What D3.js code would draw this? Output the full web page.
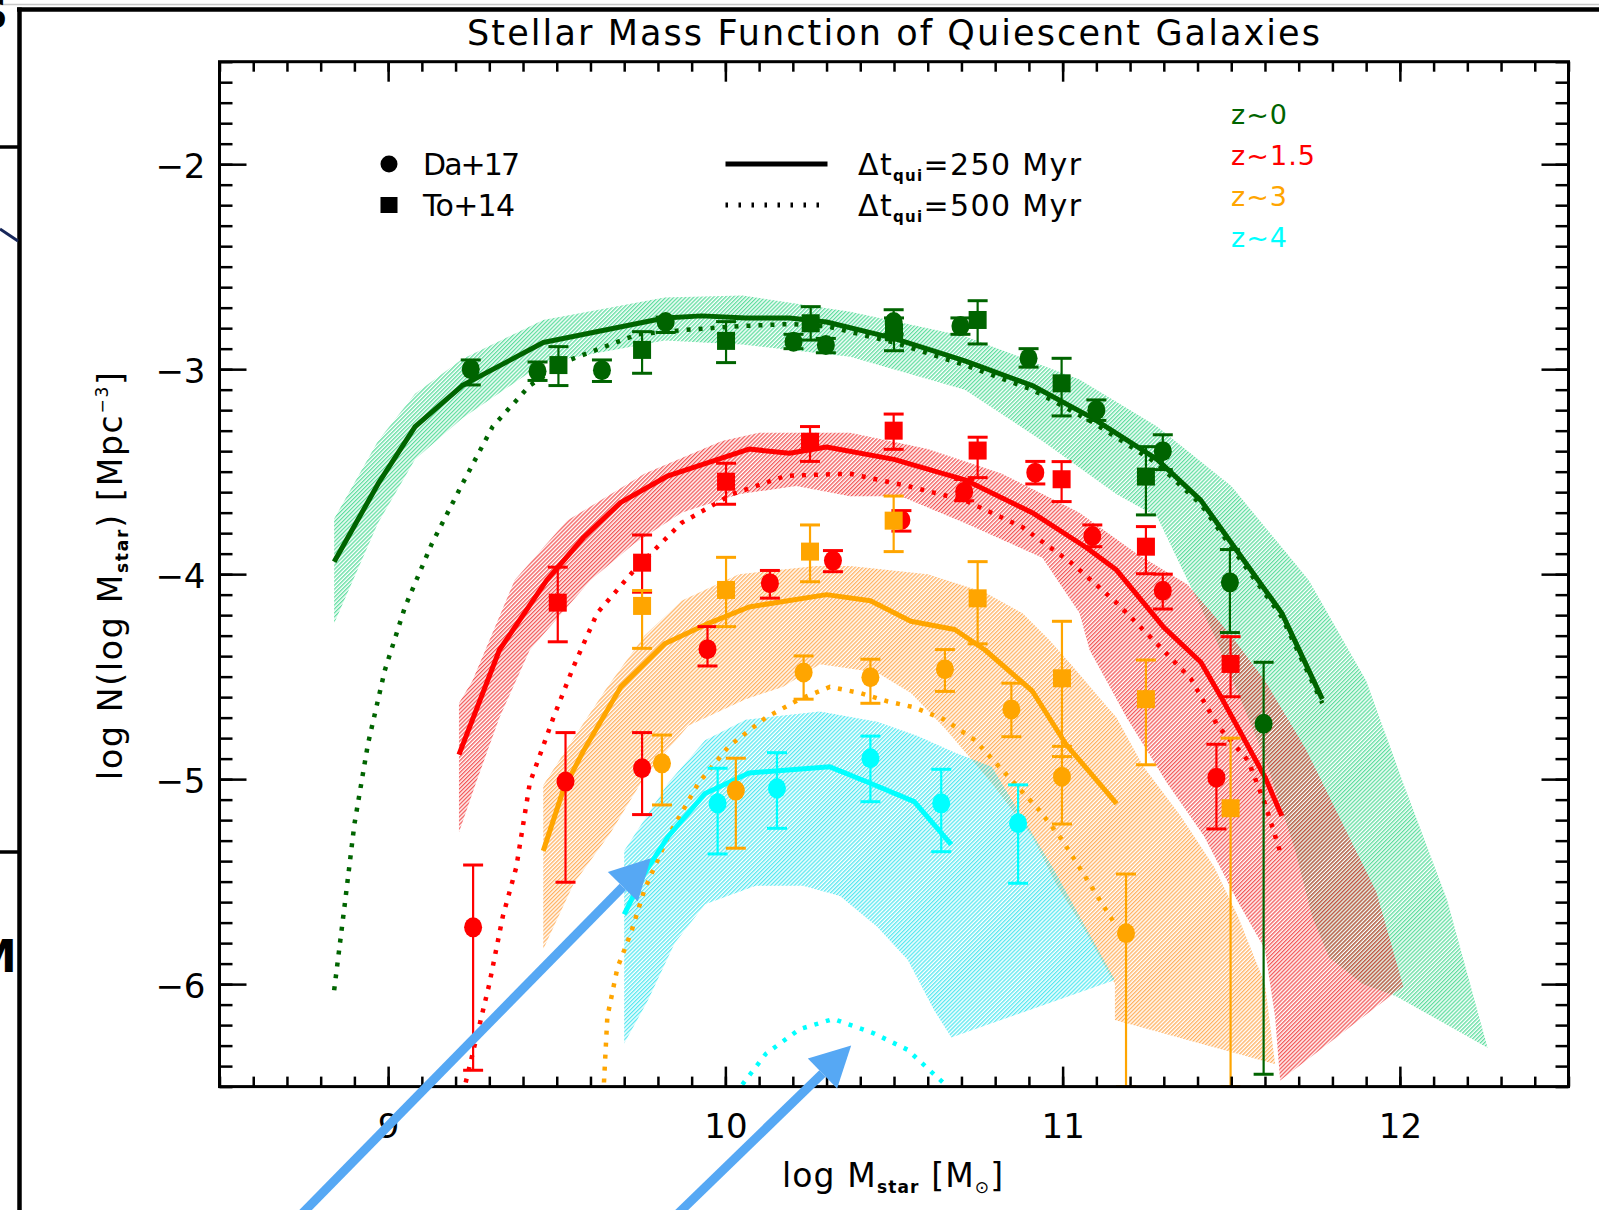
<!DOCTYPE html>
<html>
<head>
<meta charset="utf-8">
<script src="https://cdn.jsdelivr.net/npm/d3@7"></script>
<style>
  html, body { margin: 0; padding: 0; background: #fff; }
  svg { display: block; font-family: "DejaVu Sans", "Noto Sans", sans-serif; }
</style>
</head>
<body>
<svg id="chart" width="1599" height="1210"></svg>
<script>
// ---------------- data ----------------
const xTicksMajor = [9, 10, 11, 12];
const yTicksMajor = [-2, -3, -4, -5, -6];
const redshiftLabels = ["z~0", "z~1.5", "z~3", "z~4"];
const sourceLabels = ["Da+17", "To+14"];

// model curves, [log M, log N]
const z0Model250 = [[8.84,-3.94],[8.97,-3.56],[9.08,-3.28],[9.22,-3.08],[9.46,-2.87],[9.82,-2.75],[9.93,-2.74],[10.06,-2.75],[10.19,-2.75],[10.30,-2.77],[10.50,-2.85],[10.71,-2.96],[10.91,-3.08],[11.09,-3.24],[11.28,-3.44],[11.41,-3.64],[11.51,-3.87],[11.65,-4.19],[11.77,-4.61]];
const z0Model500 = [[8.84,-6.03],[8.87,-5.63],[8.90,-5.22],[8.94,-4.83],[8.99,-4.47],[9.05,-4.16],[9.13,-3.85],[9.22,-3.56],[9.31,-3.28],[9.42,-3.08],[9.53,-2.96],[9.74,-2.83],[9.87,-2.81],[10.04,-2.79],[10.19,-2.78],[10.30,-2.79],[10.50,-2.87],[10.71,-2.98],[10.91,-3.10],[11.09,-3.26],[11.28,-3.46],[11.41,-3.66],[11.51,-3.89],[11.65,-4.21],[11.77,-4.63]];
const z15Model250 = [[9.21,-4.88],[9.33,-4.37],[9.47,-4.03],[9.58,-3.82],[9.69,-3.65],[9.83,-3.52],[10.07,-3.39],[10.19,-3.41],[10.30,-3.38],[10.50,-3.44],[10.71,-3.54],[10.91,-3.70],[11.07,-3.87],[11.16,-3.98],[11.30,-4.26],[11.41,-4.43],[11.47,-4.60],[11.53,-4.78],[11.60,-4.99],[11.65,-5.18]];
const z15Model500 = [[9.23,-6.48],[9.30,-6.00],[9.34,-5.67],[9.38,-5.43],[9.42,-5.02],[9.49,-4.70],[9.55,-4.45],[9.62,-4.19],[9.73,-3.98],[9.87,-3.75],[10.02,-3.61],[10.18,-3.52],[10.37,-3.51],[10.54,-3.57],[10.71,-3.64],[10.88,-3.77],[11.03,-3.95],[11.16,-4.14],[11.28,-4.34],[11.38,-4.51],[11.46,-4.74],[11.55,-4.91],[11.60,-5.12],[11.65,-5.38]];
const z3Model250 = [[9.46,-5.35],[9.52,-5.05],[9.58,-4.86],[9.69,-4.55],[9.82,-4.34],[9.95,-4.24],[10.07,-4.16],[10.30,-4.10],[10.43,-4.13],[10.55,-4.23],[10.68,-4.27],[10.77,-4.37],[10.91,-4.57],[11.01,-4.83],[11.16,-5.12]];
const z3Model500 = [[9.64,-6.48],[9.65,-6.16],[9.68,-5.92],[9.72,-5.75],[9.76,-5.54],[9.83,-5.28],[9.92,-5.02],[10.01,-4.84],[10.12,-4.70],[10.22,-4.61],[10.31,-4.55],[10.40,-4.58],[10.48,-4.62],[10.56,-4.65],[10.65,-4.71],[10.74,-4.81],[10.84,-4.99],[10.93,-5.15],[11.00,-5.30],[11.08,-5.51],[11.16,-5.72]];
const z4Model250 = [[9.70,-5.66],[9.76,-5.46],[9.83,-5.28],[9.94,-5.07],[10.07,-4.97],[10.31,-4.94],[10.43,-5.02],[10.56,-5.11],[10.67,-5.32]];
const z4Model500 = [[10.05,-6.49],[10.12,-6.34],[10.22,-6.22],[10.32,-6.17],[10.44,-6.24],[10.54,-6.32],[10.645,-6.48]];

// model uncertainty bands: upper edge left to right, lower edge right to left
const z0BandUpper = [[8.84,-3.73],[8.97,-3.35],[9.08,-3.12],[9.22,-2.95],[9.46,-2.76],[9.82,-2.65],[10.05,-2.64],[10.37,-2.72],[10.71,-2.84],[11.05,-3.05],[11.28,-3.28],[11.50,-3.57],[11.73,-4.03],[11.90,-4.52],[12.01,-5.02],[12.14,-5.59],[12.26,-6.31]];
const z0BandLower = [[11.99,-6.06],[11.89,-6.00],[11.79,-5.87],[11.74,-5.67],[11.69,-5.35],[11.60,-4.90],[11.45,-4.30],[11.28,-3.72],[11.16,-3.61],[10.94,-3.35],[10.71,-3.10],[10.37,-2.94],[10.05,-2.88],[9.82,-2.86],[9.46,-2.97],[9.22,-3.24],[9.08,-3.44],[8.97,-3.75],[8.84,-4.24]];
const z15BandUpper = [[9.21,-4.63],[9.25,-4.52],[9.375,-4.03],[9.53,-3.74],[9.76,-3.51],[9.99,-3.35],[10.10,-3.31],[10.37,-3.31],[10.60,-3.39],[10.82,-3.51],[11.05,-3.70],[11.22,-3.90],[11.37,-4.05],[11.50,-4.30],[11.60,-4.52],[11.72,-4.85],[11.84,-5.25],[11.93,-5.55],[12.01,-6.01]];
const z15BandLower = [[11.645,-6.47],[11.63,-6.16],[11.60,-5.83],[11.52,-5.60],[11.42,-5.28],[11.31,-5.02],[11.19,-4.70],[11.08,-4.37],[11.05,-4.19],[10.94,-3.92],[10.71,-3.75],[10.52,-3.62],[10.37,-3.62],[10.21,-3.57],[10.04,-3.61],[9.87,-3.70],[9.73,-3.85],[9.60,-4.03],[9.42,-4.37],[9.33,-4.70],[9.26,-5.02],[9.21,-5.26]];
const z3BandUpper = [[9.46,-5.03],[9.55,-4.80],[9.65,-4.55],[9.76,-4.30],[9.87,-4.13],[10.04,-4.00],[10.27,-3.96],[10.37,-3.96],[10.60,-4.00],[10.77,-4.09],[10.88,-4.19],[10.96,-4.32],[11.03,-4.45],[11.16,-4.70],[11.24,-4.94],[11.35,-5.18],[11.45,-5.43],[11.52,-5.67],[11.60,-6.00],[11.63,-6.39]];
const z3BandLower = [[11.155,-6.175],[11.155,-6.00],[11.07,-5.75],[10.98,-5.51],[10.91,-5.28],[10.79,-5.02],[10.65,-4.75],[10.55,-4.58],[10.45,-4.48],[10.28,-4.44],[10.17,-4.55],[10.06,-4.61],[9.89,-4.74],[9.76,-4.99],[9.66,-5.26],[9.55,-5.51],[9.46,-5.83]];
const z4BandUpper = [[9.70,-5.35],[9.83,-5.02],[9.94,-4.81],[10.06,-4.71],[10.28,-4.67],[10.45,-4.72],[10.57,-4.79],[10.68,-4.87],[10.79,-4.94],[10.97,-5.43],[11.155,-5.98]];
const z4BandLower = [[10.67,-6.26],[10.62,-6.13],[10.54,-5.88],[10.45,-5.72],[10.34,-5.57],[10.23,-5.52],[10.09,-5.52],[9.94,-5.61],[9.85,-5.80],[9.77,-6.08],[9.70,-6.29]];

// observations: [log M, log N, lower, upper]
const z0Da17 = [[9.245,-3.00,-3.077,-2.955],[9.443,-3.01,-3.055,-2.965],[9.634,-3.005,-3.06,-2.955],[9.823,-2.77,-2.821,-2.746],[10.202,-2.866,-2.90,-2.83],[10.298,-2.882,-2.92,-2.85],[10.499,-2.77,-2.83,-2.71],[10.697,-2.79,-2.83,-2.75],[10.899,-2.947,-2.99,-2.90],[11.10,-3.20,-3.25,-3.15],[11.297,-3.40,-3.49,-3.32],[11.496,-4.04,-4.285,-3.88],[11.596,-4.73,-6.44,-4.43]];
const z0To14 = [[9.505,-2.98,-3.08,-2.89],[9.753,-2.906,-3.02,-2.817],[10.002,-2.862,-2.968,-2.768],[10.253,-2.776,-2.858,-2.695],[10.50,-2.82,-2.91,-2.75],[10.748,-2.76,-2.877,-2.666],[10.997,-3.069,-3.228,-2.947],[11.247,-3.524,-3.711,-3.378]];
const z15Da17 = [[9.252,-5.723,-6.42,-5.419],[9.526,-5.012,-5.503,-4.773],[9.753,-4.947,-5.173,-4.773],[9.947,-4.366,-4.448,-4.256],[10.132,-4.044,-4.117,-3.982],[10.319,-3.934,-3.988,-3.885],[10.522,-3.736,-3.79,-3.69],[10.708,-3.598,-3.642,-3.538],[10.919,-3.505,-3.56,-3.45],[11.088,-3.814,-3.866,-3.76],[11.297,-4.081,-4.17,-4.00],[11.456,-4.993,-5.243,-4.83]];
const z15To14 = [[9.503,-4.139,-4.33,-3.966],[9.753,-3.944,-4.088,-3.809],[10.002,-3.549,-3.659,-3.459],[10.251,-3.354,-3.45,-3.28],[10.499,-3.30,-3.391,-3.219],[10.748,-3.397,-3.529,-3.332],[10.997,-3.537,-3.646,-3.451],[11.247,-3.866,-3.998,-3.768],[11.498,-4.438,-4.598,-4.305]];
const z3Da17 = [[9.812,-4.923,-5.126,-4.785],[10.031,-5.056,-5.337,-4.898],[10.232,-4.48,-4.61,-4.399],[10.43,-4.503,-4.63,-4.415],[10.651,-4.464,-4.572,-4.368],[10.848,-4.66,-4.793,-4.532],[10.998,-4.988,-5.219,-4.84],[11.188,-5.752,-6.5,-5.463]];
const z3To14 = [[9.753,-4.155,-4.362,-4.08],[10.002,-4.077,-4.256,-3.918],[10.251,-3.89,-4.037,-3.76],[10.499,-3.739,-3.89,-3.619],[10.748,-4.118,-4.34,-3.939],[10.998,-4.508,-4.89,-4.23],[11.247,-4.61,-4.93,-4.419],[11.498,-5.142,-6.5,-4.80]];
const z4Da17 = [[9.977,-5.118,-5.365,-4.947],[10.153,-5.045,-5.24,-4.871],[10.43,-4.898,-5.11,-4.79],[10.64,-5.118,-5.354,-4.952],[10.868,-5.215,-5.508,-5.028]];

// annotation arrows on the slide, [tail, head] in data units
const arrowPaths = [[[8.741,-7.126],[9.779,-5.386]], [[9.818,-7.186],[10.373,-6.30]]];

// ---------------- style ----------------
const lineColors = ["#006400", "#ff0000", "#ffa500", "#00ffff"];
// hatch stroke colours, painted at bandOpacity over white / each other
const hatchColors = ["rgb(42,211,128)", "rgb(238,34,34)", "rgb(255,152,46)", "rgb(32,224,235)"];
const bandOpacity = 0.75;
const arrowColor = "#56a8f4";

const W = 1599, H = 1210;
const svg = d3.select("#chart");
svg.append("rect").attr("width", W).attr("height", H).attr("fill", "#fff");

const x = d3.scaleLinear().domain([8.5, 12.5]).range([219.5, 1568.5]);
const y = d3.scaleLinear().domain([-6.5, -1.5]).range([1086.6, 61.7]);

const defs = svg.append("defs");
defs.append("clipPath").attr("id", "plotClip").append("rect")
  .attr("x", x(8.5)).attr("y", y(-1.5))
  .attr("width", x(12.5) - x(8.5)).attr("height", y(-6.5) - y(-1.5));

hatchColors.forEach((c, i) => {
  const p = defs.append("pattern").attr("id", "hatch" + i)
    .attr("patternUnits", "userSpaceOnUse")
    .attr("width", 2.8).attr("height", 2.8)
    .attr("patternTransform", "rotate(45)");
  p.append("rect").attr("width", 1.35).attr("height", 2.8).attr("fill", c);
});

// ---------------- slide surroundings ----------------
const deco = svg.append("g");
deco.append("line").attr("x1", 0).attr("x2", W).attr("y1", 4.5).attr("y2", 4.5)
  .attr("stroke", "#c8c8c8").attr("stroke-width", 1.5);
deco.append("line").attr("x1", 17).attr("x2", W).attr("y1", 9.5).attr("y2", 9.5)
  .attr("stroke", "#000").attr("stroke-width", 4.5);
deco.append("line").attr("x1", 19.5).attr("x2", 19.5).attr("y1", 7.5).attr("y2", H)
  .attr("stroke", "#000").attr("stroke-width", 4.5);
deco.append("line").attr("x1", 0).attr("x2", 18).attr("y1", 147).attr("y2", 147)
  .attr("stroke", "#000").attr("stroke-width", 3.5);
deco.append("line").attr("x1", 0).attr("x2", 18).attr("y1", 852).attr("y2", 852)
  .attr("stroke", "#000").attr("stroke-width", 3.5);
deco.append("line").attr("x1", 0).attr("x2", 18).attr("y1", 229).attr("y2", 241)
  .attr("stroke", "#17275a").attr("stroke-width", 3);
deco.append("text").attr("x", -21).attr("y", 28).attr("font-size", 40)
  .attr("font-weight", "bold").text("S");
deco.append("text").attr("x", -27).attr("y", 972).attr("font-size", 44)
  .attr("font-weight", "bold").text("M");

// ---------------- plot ----------------
const plot = svg.append("g").attr("clip-path", "url(#plotClip)");
const pathGen = d3.line().x(d => x(d[0])).y(d => y(d[1]));

const bands = [[z0BandUpper, z0BandLower], [z15BandUpper, z15BandLower],
               [z3BandUpper, z3BandLower], [z4BandUpper, z4BandLower]];
bands.forEach(([up, lo], i) => {
  plot.append("path")
    .attr("d", pathGen(up.concat(lo)) + "Z")
    .attr("fill", `url(#hatch${i})`)
    .attr("opacity", bandOpacity);
});

const models = [[z0Model250, z0Model500], [z15Model250, z15Model500],
                [z3Model250, z3Model500], [z4Model250, z4Model500]];
models.forEach(([solid, dotted], i) => {
  plot.append("path").attr("d", pathGen(dotted)).attr("fill", "none")
    .attr("stroke", lineColors[i]).attr("stroke-width", 4.5)
    .attr("stroke-dasharray", "4 8");
  plot.append("path").attr("d", pathGen(solid)).attr("fill", "none")
    .attr("stroke", lineColors[i]).attr("stroke-width", 5)
    .attr("stroke-linejoin", "round");
});

function drawPoints(data, color, shape) {
  const g = plot.append("g").attr("stroke", color).attr("fill", color);
  data.forEach(d => {
    const cx = x(d[0]), y0 = y(d[2]), y1 = y(d[3]);
    g.append("line").attr("x1", cx).attr("x2", cx).attr("y1", y0).attr("y2", y1)
      .attr("stroke-width", 2.2);
    [y0, y1].forEach(v => g.append("line").attr("x1", cx - 10).attr("x2", cx + 10)
      .attr("y1", v).attr("y2", v).attr("stroke-width", 3));
    if (shape === "circle") {
      g.append("ellipse").attr("cx", cx).attr("cy", y(d[1])).attr("rx", 9).attr("ry", 10)
        .attr("stroke", "none");
    } else {
      g.append("rect").attr("x", cx - 9).attr("y", y(d[1]) - 9)
        .attr("width", 18).attr("height", 18).attr("stroke", "none");
    }
  });
}
drawPoints(z0Da17, lineColors[0], "circle");
drawPoints(z0To14, lineColors[0], "square");
drawPoints(z15Da17, lineColors[1], "circle");
drawPoints(z15To14, lineColors[1], "square");
drawPoints(z3Da17, lineColors[2], "circle");
drawPoints(z3To14, lineColors[2], "square");
drawPoints(z4Da17, lineColors[3], "circle");

// ---------------- axes ----------------
const minorX = d3.range(85, 126).map(v => v / 10);
const minorY = d3.range(-65, -14).map(v => v / 10);
const axes = svg.append("g").attr("font-family", "DejaVu Sans, sans-serif");
function styleAxis(g, fs) {
  g.select(".domain").remove();
  g.selectAll(".tick line").attr("stroke", "#000").attr("stroke-width", 2.5);
  g.selectAll(".tick text").attr("font-size", fs).attr("fill", "#000")
    .attr("font-family", "DejaVu Sans, sans-serif");
}
const yb = y(-6.5), yt = y(-1.5), xl = x(8.5), xr = x(12.5);
axes.append("g").attr("transform", `translate(0,${yb})`)
  .call(d3.axisBottom(x).tickValues(minorX).tickSize(-10).tickFormat(""))
  .call(g => styleAxis(g, 0));
axes.append("g").attr("transform", `translate(0,${yb})`)
  .call(d3.axisBottom(x).tickValues(xTicksMajor).tickSize(-20).tickPadding(27).tickFormat(d3.format("d")))
  .call(g => styleAxis(g, 34));
axes.append("g").attr("transform", `translate(0,${yt})`)
  .call(d3.axisTop(x).tickValues(minorX).tickSize(-10).tickFormat(""))
  .call(g => styleAxis(g, 0));
axes.append("g").attr("transform", `translate(0,${yt})`)
  .call(d3.axisTop(x).tickValues(xTicksMajor).tickSize(-20).tickFormat(""))
  .call(g => styleAxis(g, 0));
axes.append("g").attr("transform", `translate(${xl},0)`)
  .call(d3.axisLeft(y).tickValues(minorY).tickSize(-13).tickFormat(""))
  .call(g => styleAxis(g, 0));
axes.append("g").attr("transform", `translate(${xl},0)`)
  .call(d3.axisLeft(y).tickValues(yTicksMajor).tickSize(-27).tickPadding(14).tickFormat(d3.format("d")))
  .call(g => styleAxis(g, 34))
  .call(g => g.selectAll(".tick text").attr("dy", "0.4em"));
axes.append("g").attr("transform", `translate(${xr},0)`)
  .call(d3.axisRight(y).tickValues(minorY).tickSize(-13).tickFormat(""))
  .call(g => styleAxis(g, 0));
axes.append("g").attr("transform", `translate(${xr},0)`)
  .call(d3.axisRight(y).tickValues(yTicksMajor).tickSize(-27).tickFormat(""))
  .call(g => styleAxis(g, 0));
axes.append("rect").attr("x", xl).attr("y", yt).attr("width", xr - xl).attr("height", yb - yt)
  .attr("fill", "none").attr("stroke", "#000").attr("stroke-width", 3);

// ---------------- titles ----------------
svg.append("text").attr("x", 467).attr("y", 45).attr("font-size", 35)
  .attr("textLength", 853).attr("lengthAdjust", "spacing")
  .text("Stellar Mass Function of Quiescent Galaxies");

const xLabel = svg.append("text").attr("x", 782).attr("y", 1187).attr("font-size", 33)
  .attr("textLength", 221).attr("lengthAdjust", "spacing");
xLabel.append("tspan").text("log M");
xLabel.append("tspan").attr("font-size", 17).attr("font-weight", "bold").attr("dy", 6).text("star");
xLabel.append("tspan").attr("dy", -6).text(" [M");
xLabel.append("tspan").attr("font-size", 17).attr("dy", 6).text("⊙");
xLabel.append("tspan").attr("dy", -6).text("]");

const yLabel = svg.append("text")
  .attr("transform", "translate(122,576) rotate(-90)")
  .attr("text-anchor", "middle").attr("font-size", 33)
  .attr("textLength", 408).attr("lengthAdjust", "spacing");
yLabel.append("tspan").text("log N(log M");
yLabel.append("tspan").attr("font-size", 17).attr("font-weight", "bold").attr("dy", 6).text("star");
yLabel.append("tspan").attr("dy", -6).text(") [Mpc");
yLabel.append("tspan").attr("font-size", 17).attr("dy", -14).text("−3");
yLabel.append("tspan").attr("dy", 14).text("]");

// ---------------- legends ----------------
const leg = svg.append("g");
leg.append("ellipse").attr("cx", 389).attr("cy", 164).attr("rx", 8.5).attr("ry", 8.5).attr("fill", "#000");
leg.append("rect").attr("x", 380.5).attr("y", 197).attr("width", 17).attr("height", 16).attr("fill", "#000");
leg.append("text").attr("x", 423).attr("y", 175).attr("font-size", 30)
  .attr("textLength", 97).attr("lengthAdjust", "spacing").text(sourceLabels[0]);
leg.append("text").attr("x", 423).attr("y", 216).attr("font-size", 30)
  .attr("textLength", 92).attr("lengthAdjust", "spacing").text(sourceLabels[1]);

leg.append("line").attr("x1", 725.5).attr("x2", 827.5).attr("y1", 164).attr("y2", 164)
  .attr("stroke", "#000").attr("stroke-width", 5);
leg.append("line").attr("x1", 725.5).attr("x2", 827.5).attr("y1", 205).attr("y2", 205)
  .attr("stroke", "#000").attr("stroke-width", 5).attr("stroke-dasharray", "2.5 10.5");
["250", "500"].forEach((t, i) => {
  const tx = leg.append("text").attr("x", 858).attr("y", 175 + 41 * i).attr("font-size", 30)
    .attr("textLength", 223).attr("lengthAdjust", "spacing");
  tx.append("tspan").text("Δt");
  tx.append("tspan").attr("font-size", 15).attr("font-weight", "bold").attr("dy", 6).text("qui");
  tx.append("tspan").attr("dy", -6).text(`=${t} Myr`);
});

const zLen = [56, 84, 56, 56];
redshiftLabels.forEach((t, i) => {
  leg.append("text").attr("x", 1231).attr("y", 124 + 41 * i).attr("font-size", 27)
    .attr("fill", lineColors[i]).attr("textLength", zLen[i]).attr("lengthAdjust", "spacing").text(t);
});

// ---------------- arrows ----------------
const arrowG = svg.append("g").attr("fill", arrowColor).attr("stroke", arrowColor);
arrowPaths.forEach(([from, to]) => {
  const x0 = x(from[0]), y0 = y(from[1]), x1 = x(to[0]), y1 = y(to[1]);
  const ang = Math.atan2(y1 - y0, x1 - x0);
  const headLen = 40, headHalf = 21;
  const bx = x1 - headLen * Math.cos(ang), by = y1 - headLen * Math.sin(ang);
  arrowG.append("line").attr("x1", x0).attr("y1", y0).attr("x2", bx).attr("y2", by)
    .attr("stroke-width", 9);
  const px = -Math.sin(ang) * headHalf, py = Math.cos(ang) * headHalf;
  arrowG.append("path").attr("stroke", "none")
    .attr("d", `M${x1},${y1}L${bx + px},${by + py}L${bx - px},${by - py}Z`);
});
</script>
</body>
</html>
